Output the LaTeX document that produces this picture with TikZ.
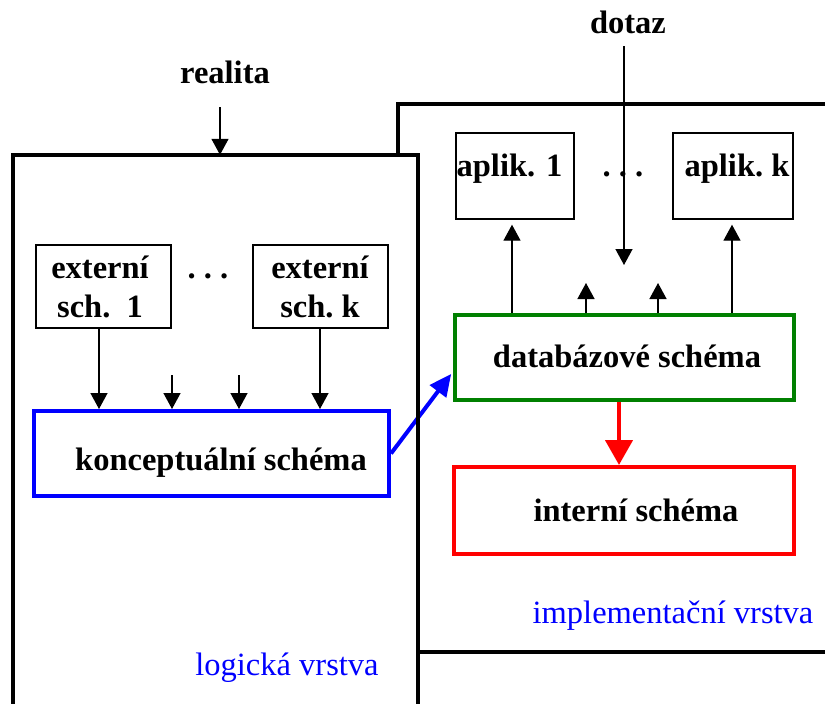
\documentclass[tikz,border=0pt]{standalone}
\usepackage{fontspec}
\setmainfont{Liberation Serif}
\usetikzlibrary{arrows.meta}
\definecolor{dbgreen}{RGB}{0,128,0}
\begin{document}
\begin{tikzpicture}[x=1pt,y=-1pt,
  every node/.style={inner sep=0pt},
  txt/.style={anchor=base, align=center, font=\fontsize{32.5}{39}\selectfont\bfseries},
  layer/.style={anchor=base, font=\fontsize{32.5}{36}\selectfont, text=blue},
  frame/.style={draw=black, line width=4pt},
  plainbox/.style={draw=black, line width=1.4pt, rectangle},
  colbox/.style={draw=#1, line width=4pt, rectangle},
  arr/.style={line width=1.4pt, -{Triangle[length=16pt,width=17pt]}},
  redarr/.style={draw=red, line width=4.5pt, -{Triangle[length=25pt,width=27pt]}},
  bluearr/.style={draw=blue, line width=4pt, -{Triangle[length=22pt,width=20pt]}},
]
\clip (0,0) rectangle (825,704);
\fill[white] (0,0) rectangle (825,704);

% implementation layer frame, partly hidden behind the logical layer
\node[frame, minimum width=442pt, minimum height=548pt] (impl) at (619,378) {};
% logical layer background
\node[fill=white, minimum width=405pt, minimum height=585pt] (logic) at (215.5,447.5) {};

% top inputs
\node[txt] (realita) at (225,83) {realita};
\node[txt] (dotaz) at (628,33) {dotaz};
\coordinate (rin) at (220,107);
\draw[arr] (rin) -- (rin |- logic.north);

% logical layer contents
\node[plainbox, minimum width=135pt, minimum height=83pt] (ext1) at (103.5,286.5) {};
\node[plainbox, minimum width=135pt, minimum height=83pt] (extk) at (320.5,286.5) {};
\node[txt] (ext1t) at (100,317) {externí\\sch.~~1};
\node[txt] (extkt) at (320,317) {externí\\sch.~k};
\node[txt] (ldots) at (208,278) {.\ .\ .};
\node[colbox=blue, minimum width=355pt, minimum height=85pt] (kon) at (211.5,453.5) {};
\node[txt] (kont) at (221,470) {konceptuální schéma};
\node[layer] (logl) at (287,675) {logická vrstva};

\coordinate (e1) at (99,0);
\coordinate (e2) at (172,375);
\coordinate (e3) at (239,375);
\coordinate (e4) at (320,0);
\draw[arr] (e1 |- ext1.south) -- (e1 |- kon.north);
\draw[arr] (e2) -- (e2 |- kon.north);
\draw[arr] (e3) -- (e3 |- kon.north);
\draw[arr] (e4 |- extk.south) -- (e4 |- kon.north);

% implementation layer contents
\node[plainbox, minimum width=118pt, minimum height=86pt] (ap1) at (515,176) {};
\node[plainbox, minimum width=120pt, minimum height=86pt] (apk) at (733,176) {};
\node[txt] (ap1t) at (509.5,176) {aplik. 1};
\node[txt] (apkt) at (737,176) {aplik.~k};
\node[txt] (rdots) at (623,176) {.\ .\ .};
\node[colbox=dbgreen, minimum width=339pt, minimum height=85pt] (db) at (624.5,357.5) {};
\node[txt] (dbt) at (627,367) {databázové schéma};
\node[colbox=red, minimum width=340pt, minimum height=87pt] (int) at (624,510.5) {};
\node[txt] (intt) at (636,521) {interní schéma};
\node[layer] (impll) at (673,623) {implementační vrstva};

\coordinate (qin) at (624,46);
\coordinate (qout) at (624,265);
\draw[arr] (qin) -- (qout);

\coordinate (v1) at (512,0);
\coordinate (v2) at (586,283);
\coordinate (v3) at (658,283);
\coordinate (v4) at (732,0);
\draw[arr, shorten >=5pt] (v1 |- db.north) -- (v1 |- ap1.south);
\draw[arr] (v2 |- db.north) -- (v2);
\draw[arr] (v3 |- db.north) -- (v3);
\draw[arr, shorten >=5pt] (v4 |- db.north) -- (v4 |- apk.south);

\coordinate (w) at (619,0);
\draw[redarr] (w |- db.south) -- (w |- int.north);

% mapping from the conceptual to the database schema
\draw[bluearr, shorten >=3pt] (kon.east) -- ([yshift=-14pt]db.west);

% logical layer border drawn last
\draw[frame] (logic.north west) rectangle (logic.south east);
\end{tikzpicture}
\end{document}
